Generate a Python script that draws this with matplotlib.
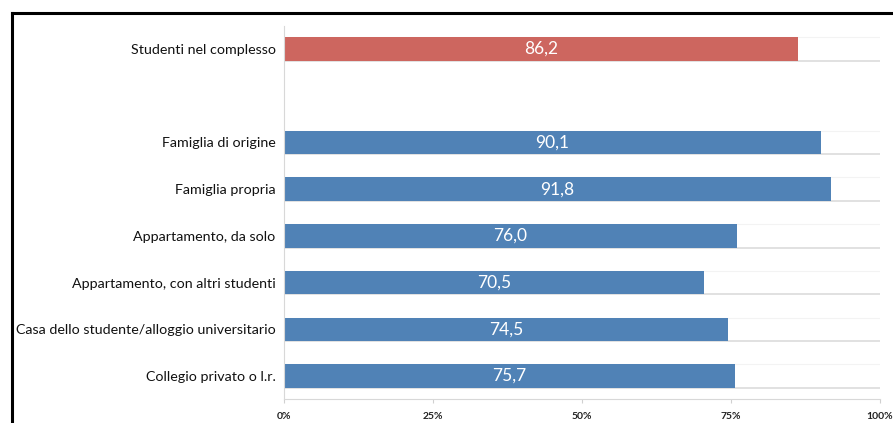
import matplotlib.pyplot as plt
from matplotlib.lines import Line2D

# Dati
totale_label = 'Studenti nel complesso'
totale_value = 86.2
categorie = ['Famiglia di origine', 'Famiglia propria', 'Appartamento, da solo',
             'Appartamento, con altri studenti',
             'Casa dello studente/alloggio universitario', 'Collegio privato o l.r.']
valori = [90.1, 91.8, 76.0, 70.5, 74.5, 75.7]
tick_vals = [0, 25, 50, 75, 100]
tick_labels = ['0%', '25%', '50%', '75%', '100%']

plt.rcParams['font.family'] = ['Lato', 'DejaVu Sans']

fig = plt.figure(figsize=(8.93, 4.23), dpi=100)
ax = fig.add_axes([0.318, 0.0558, 0.6675, 0.8837])

red = '#cd665f'
blue = '#5082b6'
h = 0.5

# posizioni: riga vuota tra il totale e le categorie
y_tot = 0
y_cat = list(range(2, 2 + len(categorie)))
labels = [totale_label] + categorie
ys = [y_tot] + y_cat
vals = [totale_value] + valori
cols = [red] + [blue] * len(categorie)

for y in ys:
    ax.hlines(y + h / 2, 0, 100, color='#dcdcdc', lw=1.2, zorder=1)
    ax.hlines(y - h / 2, 0, 100, color='#f3f3f3', lw=0.8, zorder=1)

ax.barh(ys, vals, height=h, color=cols, zorder=2)
for y, v in zip(ys, vals):
    ax.text(v / 2, y, f'{v:.1f}'.replace('.', ','), color='white',
            ha='center', va='center', fontsize=12.5, zorder=3)

ax.set_yticks(ys)
ax.set_yticklabels(labels, fontsize=10.3, color='#111111')
ax.tick_params(axis='y', length=0, pad=6)
ax.set_ylim(7.5, -0.5)
ax.set_xlim(0, 100)
ax.set_xticks(tick_vals)
ax.set_xticklabels(tick_labels, fontsize=7.5, fontweight='bold', color='#222222')
ax.tick_params(axis='x', length=3, color='#d0d0d0', pad=6)

for s in ['top', 'right']:
    ax.spines[s].set_visible(False)
ax.spines['left'].set_color('#d8d8d8')
ax.spines['bottom'].set_color('#d8d8d8')

# cornice nera
fig.add_artist(Line2D([11.5 / 893, 1], [1 - 13 / 423, 1 - 13 / 423], color='black', lw=2.2,
                      transform=fig.transFigure))
fig.add_artist(Line2D([11.5 / 893, 11.5 / 893], [0, 1 - 13 / 423], color='black', lw=2.2,
                      transform=fig.transFigure))

fig.savefig('out.png', dpi=100)
